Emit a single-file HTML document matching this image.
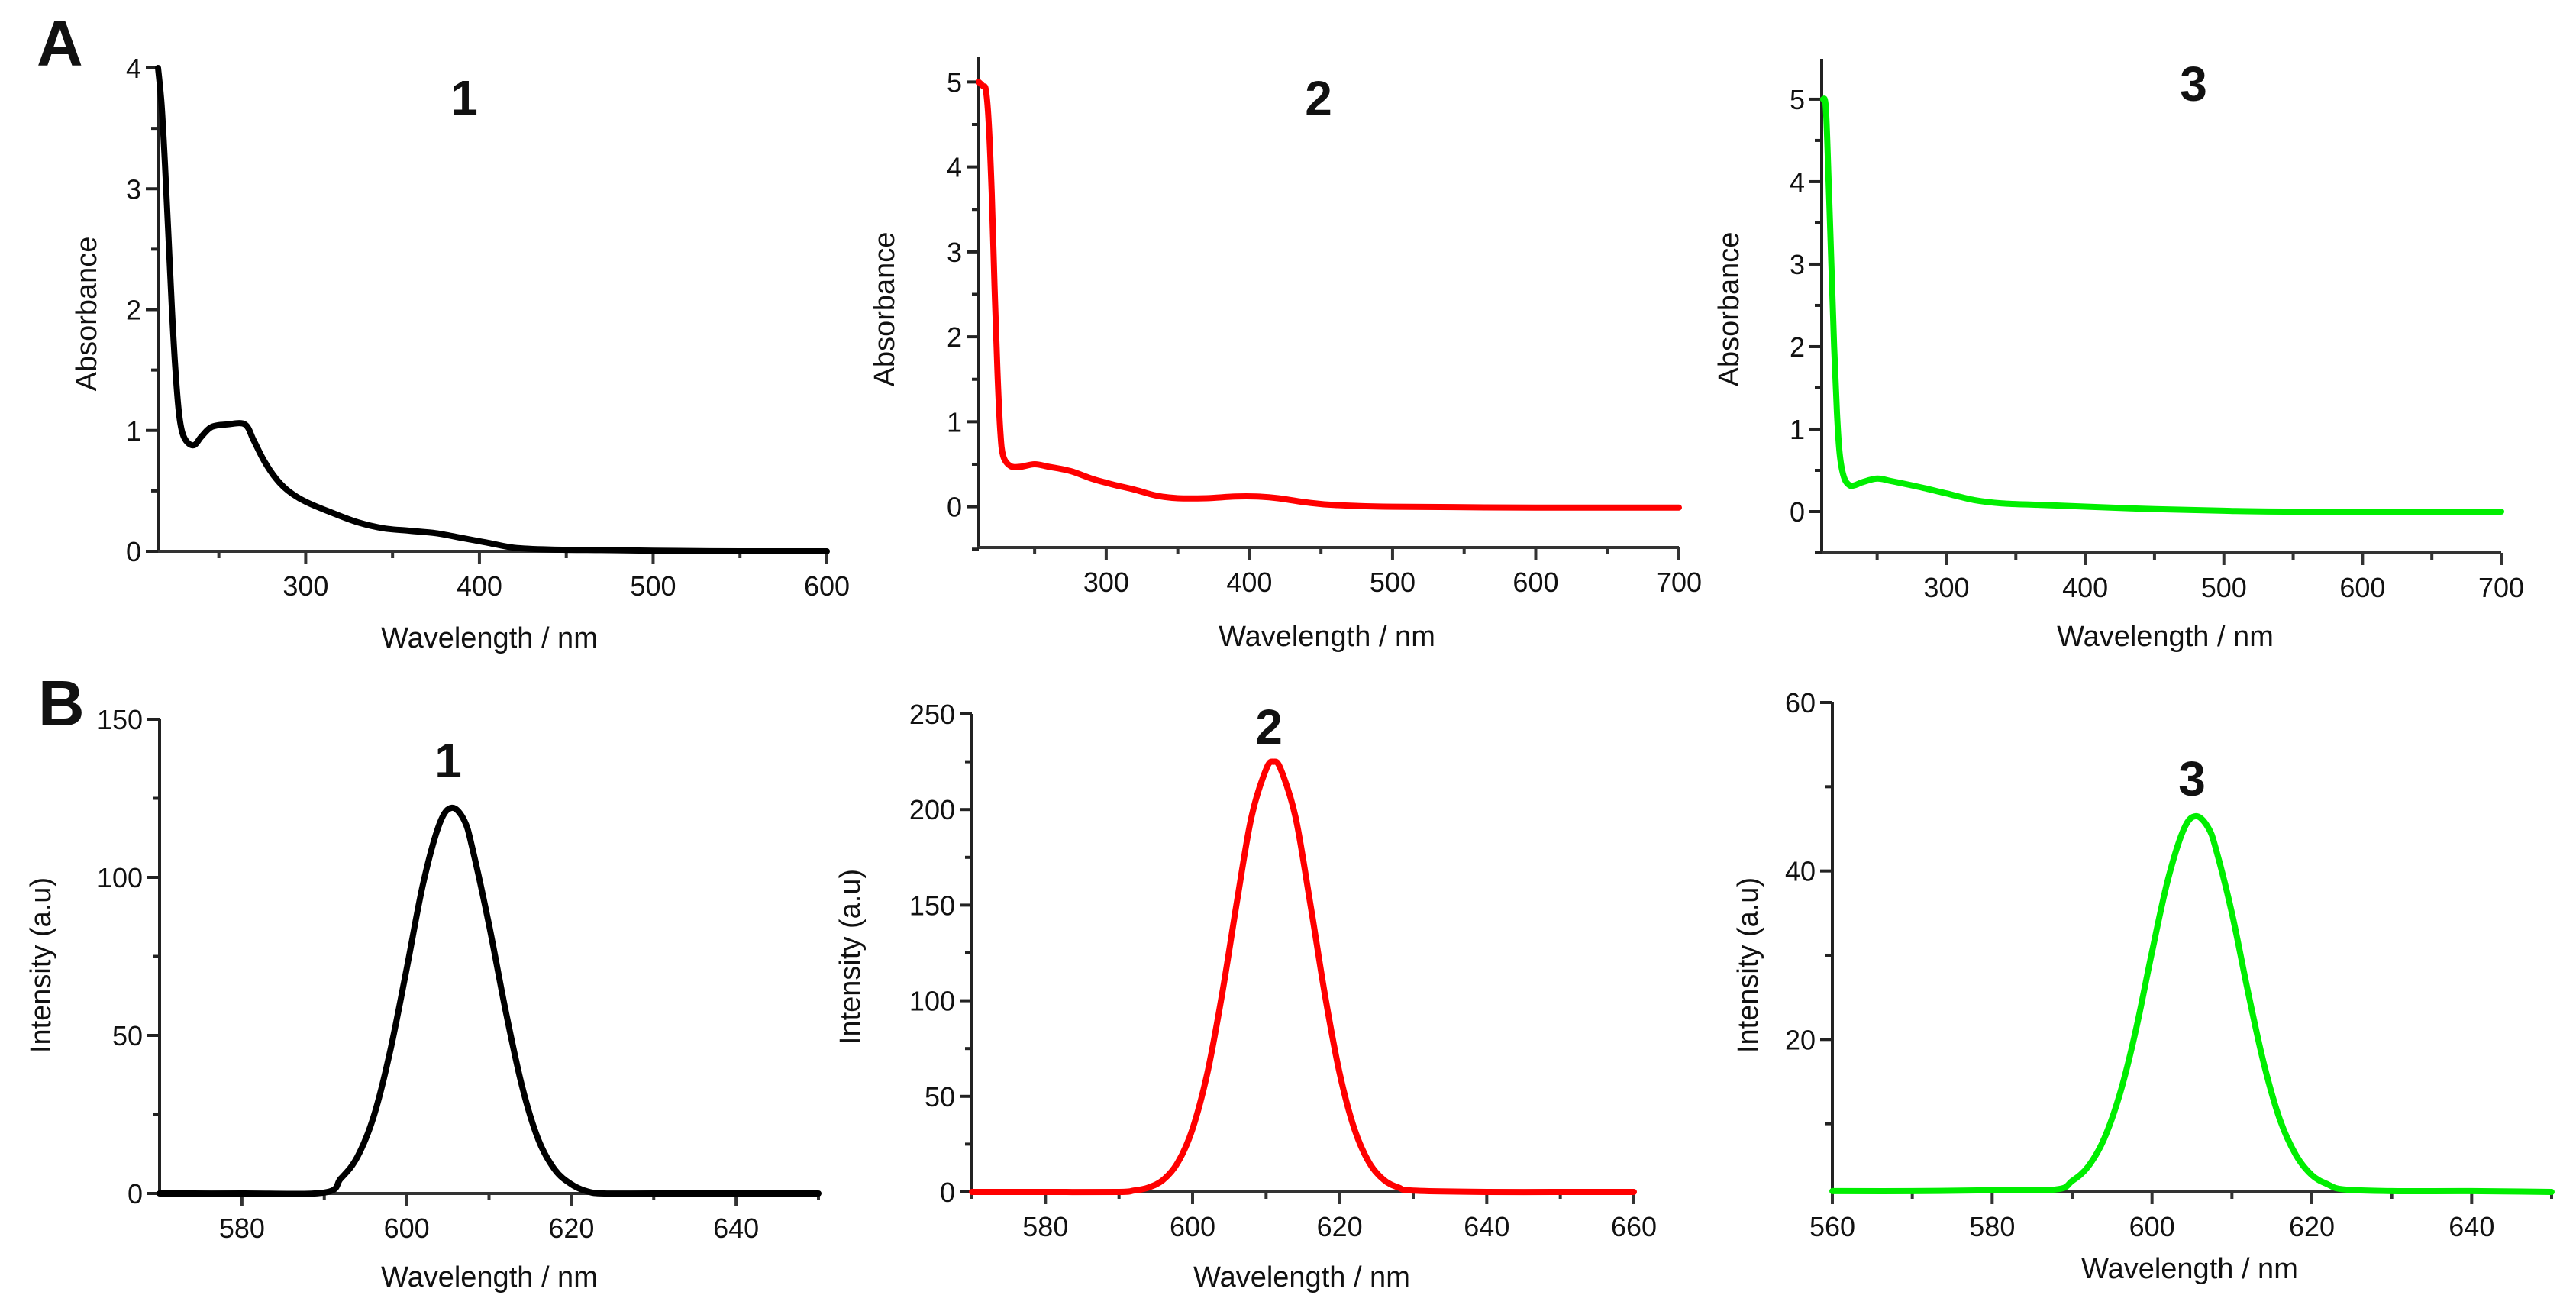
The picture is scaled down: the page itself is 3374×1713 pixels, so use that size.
<!DOCTYPE html>
<html><head><meta charset="utf-8"><style>
html,body{margin:0;padding:0;background:#fff;}
svg{display:block;}
text{font-family:"Liberation Sans",sans-serif;fill:#111;}
</style></head><body>
<svg id="fig" width="3374" height="1713" viewBox="0 0 3374 1713" xmlns="http://www.w3.org/2000/svg">
<text x="48" y="86" font-size="84" font-weight="bold">A</text>
<text x="50" y="950" font-size="84" font-weight="bold">B</text>
</svg>
<script>
// ---------- data ----------
const abs1X = [215,217,219,221,223,225,227,229,232,236,240,246,255,265,270,276,283,290,300,315,330,345,360,375,390,405,420,440,470,500,550,600];
const abs1Y = [4.0,3.7,3.2,2.6,2.0,1.5,1.15,0.98,0.9,0.88,0.95,1.03,1.05,1.05,0.92,0.75,0.6,0.5,0.41,0.32,0.24,0.19,0.17,0.15,0.11,0.07,0.03,0.015,0.01,0.005,0.0,0.0];
const abs2X = [211,214,216,218,220,222,224,226,228,233,240,250,260,275,290,305,320,335,350,370,390,405,420,440,460,500,600,700];
const abs2Y = [5.0,4.95,4.9,4.5,3.7,2.6,1.6,0.9,0.6,0.48,0.47,0.5,0.47,0.42,0.33,0.26,0.2,0.13,0.1,0.1,0.12,0.12,0.1,0.05,0.02,0.0,-0.01,-0.01];
const abs3X = [211,213,215,217,219,221,223,226,230,234,240,250,260,280,300,320,340,370,400,450,500,550,700];
const abs3Y = [5.0,4.9,4.0,3.0,2.0,1.2,0.7,0.42,0.32,0.32,0.36,0.4,0.37,0.3,0.22,0.14,0.1,0.08,0.06,0.03,0.01,0.0,0.0];
const em1X = [570,580,590,592,594,596,598,600,602,604,605.5,607,608,610,612,614,616,618,620,622,624,630,640,650];
const em1Y = [0,0,0.3,4.7,11.5,24.4,45,71,98,117,122,118,109,85,58,34,17,7.5,2.9,0.6,0,0,0,0];
const em2X = [570,580,590,592,594,596,598,600,602,604,606,608,610,611,612,614,616,618,620,622,624,626,628,630,640,650,660];
const em2Y = [0,0,0,0.7,2.3,6.3,15.4,33,62,103,151,196,221,225,221,196,151,103,62,33,15.4,6.3,2.3,0.7,0,0,0];
const em3X = [560,570,580,588,590,592,594,596,598,600,602,604,605.5,607,608,610,612,614,616,618,620,622,624,630,640,650];
const em3Y = [2,2,2.1,2.2,3.2,4.9,8.2,13.6,21.2,30.4,39,45,46.5,45.2,42.6,35,25.7,17.1,10.5,6.3,3.9,2.8,2.2,2,2,1.9];
const absXTicks1 = [300,400,500,600];
const absXTicks23 = [300,400,500,600,700];
const absYTicks1 = [0,1,2,3,4];
const absYTicks23 = [0,1,2,3,4,5];
const em1XTicks = [580,600,620,640];
const em2XTicks = [580,600,620,640,660];
const em3XTicks = [560,580,600,620,640];
const em1YTicks = [0,50,100,150];
const em2YTicks = [0,50,100,150,200,250];
const em3YTicks = [20,40,60];

const NS = "http://www.w3.org/2000/svg";
const svg = document.getElementById('fig');
function mk(tag, attrs, parent){
  const e = document.createElementNS(NS, tag);
  for (const k in attrs) e.setAttribute(k, attrs[k]);
  (parent||svg).appendChild(e);
  return e;
}
function smoothPath(pts){
  let d = 'M' + pts[0][0].toFixed(1) + ',' + pts[0][1].toFixed(1);
  for (let i = 0; i < pts.length - 1; i++){
    const p0 = pts[i-1] || pts[i], p1 = pts[i], p2 = pts[i+1], p3 = pts[i+2] || p2;
    const c1x = p1[0] + (p2[0]-p0[0])/6, c1y = p1[1] + (p2[1]-p0[1])/6;
    const c2x = p2[0] - (p3[0]-p1[0])/6, c2y = p2[1] - (p3[1]-p1[1])/6;
    d += 'C' + c1x.toFixed(1) + ',' + c1y.toFixed(1) + ' ' + c2x.toFixed(1) + ',' + c2y.toFixed(1) + ' ' + p2[0].toFixed(1) + ',' + p2[1].toFixed(1);
  }
  return d;
}
function panel(p){
  const g = mk('g', {});
  
  
  const sx = v => p.x0 + (v - p.xmin) / (p.xmax - p.xmin) * (p.x1 - p.x0);
  const sy = v => p.y0 - (v - p.ymin) / (p.ymax - p.ymin) * (p.y0 - p.y1);
  const ya = mk('line', {x1:p.x0, y1:p.y0, x2:p.x0, y2:p.y1, stroke:'#222', 'stroke-width':4}, g);
  
  
  const xa = mk('line', {x1:p.x0-2, y1:p.y0, x2:p.x1, y2:p.y0, stroke:'#333', 'stroke-width':4}, g);
  
  
  for (const t of p.xticks){
    const X = sx(t);
    const tk = mk('line', {x1:X, y1:p.y0, x2:X, y2:p.y0+16, stroke:'#333', 'stroke-width':4}, g);
    
    
    const tl = mk('text', {x:X, y:p.y0+58, 'font-size':36, 'text-anchor':'middle'}, g);
    tl.textContent = t;
    
    
  }
  for (let t = p.xminorStart; t <= p.xmax + 1e-9; t += p.xminorStep){
    if (p.xticks.indexOf(t) >= 0) continue;
    const X = sx(t);
    const mt = mk('line', {x1:X, y1:p.y0, x2:X, y2:p.y0+9, stroke:'#333', 'stroke-width':4}, g);
    
    
  }
  for (const t of p.yticks){
    const Y = sy(t);
    const tk = mk('line', {x1:p.x0, y1:Y, x2:p.x0-16, y2:Y, stroke:'#222', 'stroke-width':4}, g);
    
    
    const tl = mk('text', {x:p.x0-22, y:Y+13, 'font-size':36, 'text-anchor':'end'}, g);
    tl.textContent = t;
    
    
  }
  for (let t = p.yminorStart; t <= p.ymax + 1e-9; t += p.yminorStep){
    if (p.yticks.some(v => Math.abs(v - t) < 1e-6)) continue;
    const Y = sy(t);
    const mt = mk('line', {x1:p.x0, y1:Y, x2:p.x0-9, y2:Y, stroke:'#222', 'stroke-width':4}, g);
    
    
  }
  const pts = [];
  for (let i = 0; i < p.xs.length; i++) pts.push([sx(p.xs[i]), sy(p.ys[i])]);
  const path = mk('path', {d:smoothPath(pts), fill:'none', stroke:p.color, 'stroke-width':8, 'stroke-linejoin':'round', 'stroke-linecap':'round'}, g);
  
  
  const xt = mk('text', {x:p.xtx, y:p.xty, 'font-size':38, 'text-anchor':'middle'}, g);
  xt.textContent = 'Wavelength / nm';
  
  
  const yt = mk('text', {x:0, y:0, 'font-size':38, 'text-anchor':'middle', transform:'translate(' + p.ytx + ',' + p.yty + ') rotate(-90)'}, g);
  yt.textContent = p.ytitle;
  
  
  const lb = mk('text', {x:p.lx, y:p.ly, 'font-size':64, 'font-weight':'bold', 'text-anchor':'middle'}, g);
  lb.textContent = p.label;
  
  
}

panel({name:'absorbance-chart-1', x0:207, x1:1083, y0:722, y1:89, xmin:215, xmax:600, ymin:0, ymax:4,
  xticks:absXTicks1, xminorStart:250, xminorStep:50, yticks:absYTicks1, yminorStart:0.5, yminorStep:1,
  xs:abs1X, ys:abs1Y, color:'#000', seriesName:'absorbance-line-1', ytitle:'Absorbance',
  xtx:641, xty:848, ytx:126, yty:411, label:'1', lx:608, ly:150});
panel({name:'absorbance-chart-2', x0:1282, x1:2199, y0:717, y1:74, xmin:211, xmax:700, ymin:-0.48, ymax:5.3,
  xticks:absXTicks23, xminorStart:250, xminorStep:50, yticks:absYTicks23, yminorStart:-0.5, yminorStep:1,
  xs:abs2X, ys:abs2Y, color:'#ff0000', seriesName:'absorbance-line-2', ytitle:'Absorbance',
  xtx:1738, xty:846, ytx:1171, yty:405, label:'2', lx:1727, ly:151});
panel({name:'absorbance-chart-3', x0:2386, x1:3276, y0:724, y1:77, xmin:210, xmax:700, ymin:-0.5, ymax:5.49,
  xticks:absXTicks23, xminorStart:250, xminorStep:50, yticks:absYTicks23, yminorStart:-0.5, yminorStep:1,
  xs:abs3X, ys:abs3Y, color:'#00ee00', seriesName:'absorbance-line-3', ytitle:'Absorbance',
  xtx:2836, xty:846, ytx:2277, yty:405, label:'3', lx:2873, ly:132});
panel({name:'emission-chart-1', x0:209, x1:1072, y0:1563, y1:942, xmin:570, xmax:650, ymin:0, ymax:150,
  xticks:em1XTicks, xminorStart:590, xminorStep:20, yticks:em1YTicks, yminorStart:25, yminorStep:50,
  xs:em1X, ys:em1Y, color:'#000', seriesName:'emission-line-1', ytitle:'Intensity (a.u)',
  xtx:641, xty:1685, ytx:66, yty:1264, label:'1', lx:587, ly:1018});
panel({name:'emission-chart-2', x0:1273, x1:2140, y0:1561, y1:935, xmin:570, xmax:660, ymin:0, ymax:250,
  xticks:em2XTicks, xminorStart:570, xminorStep:20, yticks:em2YTicks, yminorStart:25, yminorStep:50,
  xs:em2X, ys:em2Y, color:'#ff0000', seriesName:'emission-line-2', ytitle:'Intensity (a.u)',
  xtx:1705, xty:1685, ytx:1126, yty:1253, label:'2', lx:1662, ly:974});
panel({name:'emission-chart-3', x0:2400, x1:3342, y0:1561, y1:920, xmin:560, xmax:650, ymin:1.9, ymax:60,
  xticks:em3XTicks, xminorStart:570, xminorStep:20, yticks:em3YTicks, yminorStart:10, yminorStep:20,
  xs:em3X, ys:em3Y, color:'#00ee00', seriesName:'emission-line-3', ytitle:'Intensity (a.u)',
  xtx:2868, xty:1674, ytx:2302, yty:1264, label:'3', lx:2871, ly:1042});
</script>
</body></html>
